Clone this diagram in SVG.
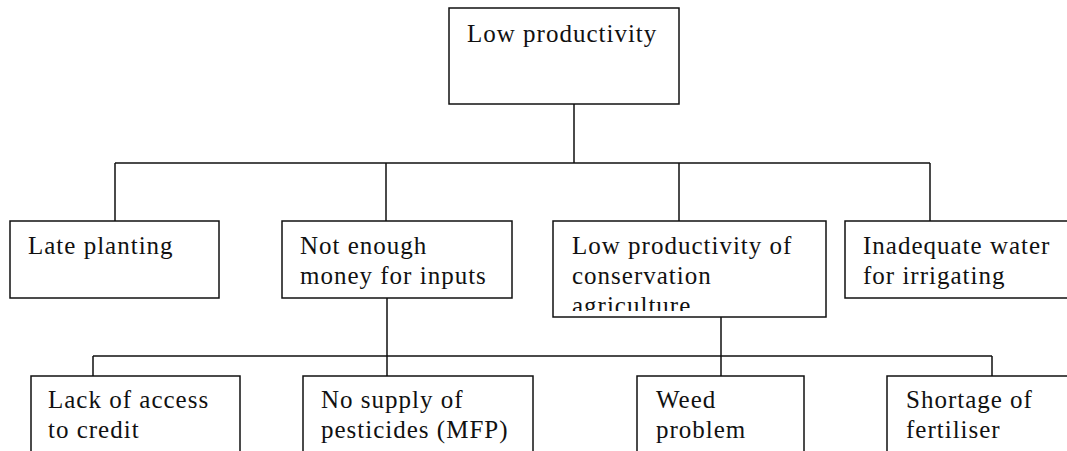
<svg xmlns="http://www.w3.org/2000/svg" width="1067" height="451" viewBox="0 0 1067 451">
  <style>
    .box { fill: #fff; stroke: #111; stroke-width: 1.5; }
    .wire { fill: none; stroke: #111; stroke-width: 1.5; }
    .lbl { font-family: "Liberation Serif", "Times New Roman", serif; font-size: 25px; letter-spacing: 1px; fill: #111; }
  </style>
  <defs>
    <clipPath id="clip-ca">
      <rect x="553" y="221" width="273" height="90"/>
    </clipPath>
  </defs>
  <rect width="1067" height="451" fill="#fff"/>

  <g id="connectors">
    <!-- root to first tier -->
    <path class="wire" d="M574 104 V163 M115 163 H930 M115 163 V221 M386 163 V221 M679 163 V221 M930 163 V221"/>
    <!-- first tier to second tier -->
    <path class="wire" d="M387 298 V376 M721 317 V376 M93 356 H992 M93 356 V376 M992 356 V376"/>
  </g>

  <g id="low-productivity">
    <rect class="box" x="449" y="8" width="230" height="96"/>
    <text class="lbl" x="467" y="42">Low productivity</text>
  </g>

  <g id="late-planting">
    <rect class="box" x="10" y="221" width="209" height="77"/>
    <text class="lbl" x="28" y="254">Late planting</text>
  </g>

  <g id="money-inputs">
    <rect class="box" x="282" y="221" width="230" height="77"/>
    <text class="lbl" x="300" y="254">Not enough</text>
    <text class="lbl" x="300" y="284">money for inputs</text>
  </g>

  <g id="conservation-agriculture">
    <rect class="box" x="553" y="221" width="273" height="96"/>
    <g clip-path="url(#clip-ca)">
      <text class="lbl" x="572" y="254">Low productivity of</text>
      <text class="lbl" x="572" y="284">conservation</text>
      <text class="lbl" x="572" y="314">agriculture</text>
    </g>
  </g>

  <g id="irrigation-water">
    <rect class="box" x="845" y="221" width="240" height="77"/>
    <text class="lbl" x="863" y="254">Inadequate water</text>
    <text class="lbl" x="863" y="284">for irrigating</text>
  </g>

  <g id="credit-access">
    <rect class="box" x="31" y="376" width="209" height="90"/>
    <text class="lbl" x="48" y="408">Lack of access</text>
    <text class="lbl" x="48" y="438">to credit</text>
  </g>

  <g id="pesticide-supply">
    <rect class="box" x="303" y="376" width="230" height="90"/>
    <text class="lbl" x="321" y="408">No supply of</text>
    <text class="lbl" x="321" y="438">pesticides (MFP)</text>
  </g>

  <g id="weed-problem">
    <rect class="box" x="637" y="376" width="167" height="90"/>
    <text class="lbl" x="656" y="408">Weed</text>
    <text class="lbl" x="656" y="438">problem</text>
  </g>

  <g id="fertiliser-shortage">
    <rect class="box" x="887" y="376" width="200" height="90"/>
    <text class="lbl" x="906" y="408">Shortage of</text>
    <text class="lbl" x="906" y="438">fertiliser</text>
  </g>
</svg>
